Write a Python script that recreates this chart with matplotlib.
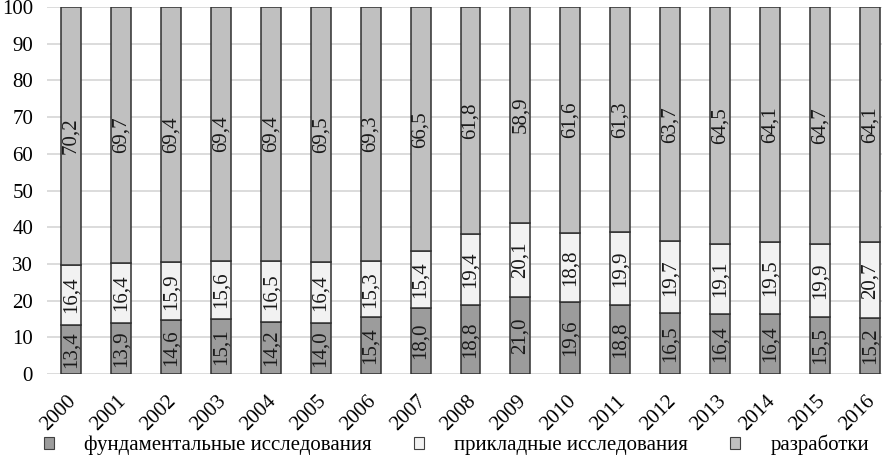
import numpy as np
import matplotlib.pyplot as plt
from matplotlib.patches import Patch
from matplotlib.transforms import ScaledTranslation

plt.rcParams['font.family'] = ['Liberation Serif', 'DejaVu Serif']

years = ['2000', '2001', '2002', '2003', '2004', '2005', '2006', '2007', '2008',
         '2009', '2010', '2011', '2012', '2013', '2014', '2015', '2016']
fund = [13.4, 13.9, 14.6, 15.1, 14.2, 14.0, 15.4, 18.0, 18.8,
        21.0, 19.6, 18.8, 16.5, 16.4, 16.4, 15.5, 15.2]
applied = [16.4, 16.4, 15.9, 15.6, 16.5, 16.4, 15.3, 15.4, 19.4,
           20.1, 18.8, 19.9, 19.7, 19.1, 19.5, 19.9, 20.7]
dev = [70.2, 69.7, 69.4, 69.4, 69.4, 69.5, 69.3, 66.5, 61.8,
       58.9, 61.6, 61.3, 63.7, 64.5, 64.1, 64.7, 64.1]
names = ['фундаментальные исследования', 'прикладные исследования', 'разработки']
colors = ['#9c9c9c', '#f2f2f2', '#c0c0c0']

fig = plt.figure(figsize=(8.82, 4.58), dpi=100)
ax = fig.add_axes([47 / 882, 1 - 374 / 458, 1 - 47 / 882, 367 / 458])

x = np.arange(len(years))
bottom = np.zeros(len(years))
for vals, col in zip([fund, applied, dev], colors):
    vals = np.array(vals)
    ax.bar(x, vals, 0.4, bottom=bottom, color=col, edgecolor='#303030',
           linewidth=1.1, zorder=3)
    for xi, b, v in zip(x, bottom, vals):
        ax.text(xi, b + v / 2, f'{v:.1f}'.replace('.', ','), rotation=90,
                ha='center', va='center', fontsize=15, color='#1a1a1a', zorder=4)
    bottom += vals

ax.set_xlim(-0.48, 16.24)
ax.set_ylim(0, 100)
ax.set_yticks(range(0, 101, 10))
ax.yaxis.grid(True, color='#d9d9d9', linewidth=1.3, zorder=0)
ax.set_axisbelow(True)
for s in ax.spines.values():
    s.set_visible(False)
ax.tick_params(length=0, labelsize=15)
ax.tick_params(axis='y', pad=10)
ax.tick_params(axis='x', pad=13)
ax.set_xticks(x)
ax.set_xticklabels(years, rotation=45, ha='right', va='top', rotation_mode='anchor')
shift = ScaledTranslation(-4 / 100, 0, fig.dpi_scale_trans)
for lab in ax.get_xticklabels():
    lab.set_transform(lab.get_transform() + shift)

handles = [Patch(facecolor=c, edgecolor='#404040', linewidth=0.8) for c in colors]
fig.legend(handles, names, loc='lower left', bbox_to_anchor=(29 / 882, -0.026),
           ncol=3, frameon=False, fontsize=15, handlelength=0.5, handleheight=0.5,
           handletextpad=1.45, columnspacing=2.0, borderpad=0.2)

fig.savefig('out.png', dpi=100)
